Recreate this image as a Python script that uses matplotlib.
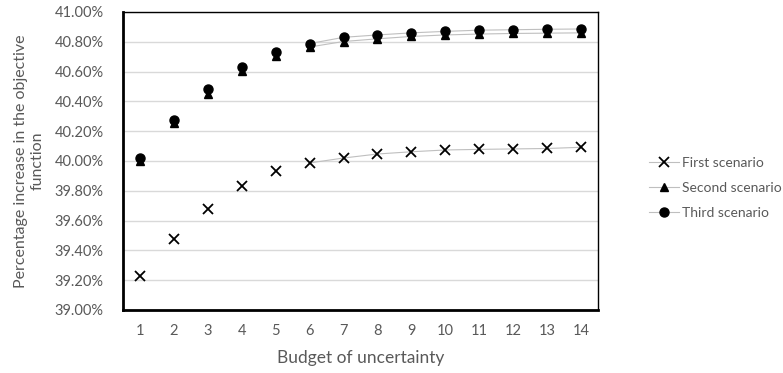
import numpy as np
import matplotlib
matplotlib.use("Agg")
import matplotlib.pyplot as plt
from matplotlib.ticker import FuncFormatter

plt.rcParams['font.family'] = ['Lato', 'DejaVu Sans']

budget = list(range(1, 15))
first = [39.228, 39.477, 39.678, 39.832, 39.933, 39.987, 40.020, 40.047,
         40.062, 40.074, 40.078, 40.081, 40.084, 40.092]
second = [40.000, 40.255, 40.450, 40.603, 40.708, 40.765, 40.802, 40.820,
          40.836, 40.846, 40.852, 40.856, 40.858, 40.860]
third = [40.020, 40.278, 40.483, 40.628, 40.730, 40.788, 40.830, 40.846,
         40.860, 40.870, 40.878, 40.881, 40.884, 40.886]

grey = '#595959'
fig = plt.figure(figsize=(7.83, 3.73), dpi=100)
ax = fig.add_axes([123/783, 1-310/373, (598-123)/783, (310-12)/373])

series = [(first, 'x', 'First scenario', 7),
          (second, '^', 'Second scenario', 6),
          (third, 'o', 'Third scenario', 6.5)]
handles = []
for vals, mk, name, ms in series:
    # thin connector lines only show from budget 6 onward
    ax.plot(budget[5:], vals[5:], color='#bfbfbf', lw=0.8, zorder=2)
    ax.plot(budget, vals, ls='none', marker=mk, color='black', ms=ms,
            mew=1.3 if mk == 'x' else 1, zorder=3)
    h, = ax.plot([], [], color='#bfbfbf', lw=0.8, marker=mk, mfc='black',
                 mec='black', ms=ms, mew=1.3 if mk == 'x' else 1)
    handles.append((h, name))

ax.set_xlim(0.5, 14.5)
ax.set_ylim(39.0, 41.0)
ax.set_xticks(budget)
ax.set_yticks(np.arange(39.0, 41.01, 0.2))
ax.yaxis.set_major_formatter(FuncFormatter(lambda v, p: f'{v:.2f}%'))
ax.grid(axis='y', color='#d9d9d9', lw=1)
ax.set_axisbelow(True)
ax.tick_params(length=0, colors=grey, labelsize=10.5)
ax.tick_params(axis='y', pad=14)
ax.tick_params(axis='x', pad=10)
for s in ['left', 'bottom']:
    ax.spines[s].set_linewidth(2)
for s in ['top', 'right']:
    ax.spines[s].set_linewidth(1)
for s in ax.spines.values():
    s.set_color('black')

ax.set_xlabel('Budget of uncertainty', color=grey, fontsize=12.5, labelpad=9)
ax.set_ylabel('Percentage increase in the objective\nfunction', color=grey,
              fontsize=11.5, labelpad=7, linespacing=1.25)

leg = fig.legend([h for h, _ in handles], [n for _, n in handles],
                 loc='center left', bbox_to_anchor=(636/783, 1-188/373),
                 frameon=False, fontsize=10, handlelength=2.2,
                 labelspacing=0.95, handletextpad=0.2)
for t in leg.get_texts():
    t.set_color(grey)

fig.savefig('out.png', dpi=100)
